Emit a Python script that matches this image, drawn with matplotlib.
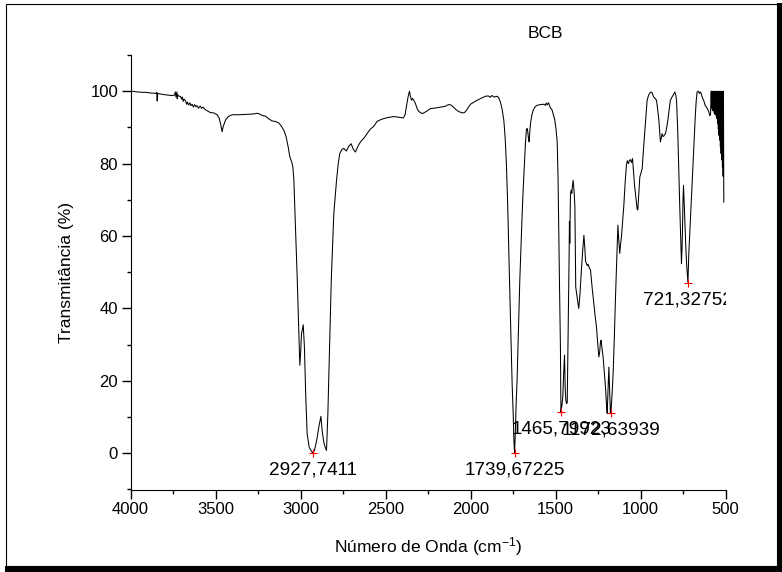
import matplotlib
matplotlib.use("Agg")
import matplotlib.pyplot as plt
from matplotlib.patches import Rectangle
from matplotlib.ticker import MultipleLocator
from matplotlib.transforms import offset_copy

plt.rcParams['font.family'] = ['Liberation Sans', 'DejaVu Sans']
plt.rcParams['mathtext.fontset'] = 'custom'
plt.rcParams['mathtext.rm'] = 'Liberation Sans'
plt.rcParams['mathtext.it'] = 'Liberation Sans:italic'

# FTIR spectrum (wavenumber in cm-1, transmittance in %)
wavenumber = [
    4000, 3990, 3960, 3930, 3912, 3880, 3850, 3846, 3843, 3840, 3810, 3790,
    3774, 3760, 3742, 3736, 3733, 3730, 3727, 3725, 3722, 3715, 3706, 3700,
    3695, 3690, 3685, 3676, 3670, 3665, 3658, 3650, 3645, 3637, 3630, 3622,
    3615, 3608, 3600, 3590, 3582, 3574, 3562, 3549, 3530, 3510, 3490, 3478,
    3468, 3461, 3455, 3441, 3425, 3402, 3360, 3324, 3280, 3255, 3245, 3225,
    3206, 3185, 3167, 3145, 3127, 3112, 3098, 3085, 3072, 3063, 3052, 3045,
    3039, 3029, 3019, 3010, 3004, 2999, 2994, 2984, 2977, 2969, 2961, 2949,
    2938, 2928, 2918, 2905, 2892, 2880, 2872, 2863, 2855, 2847, 2839, 2829,
    2819, 2804, 2788, 2778, 2769, 2755, 2745, 2730, 2716, 2702, 2690, 2677,
    2660, 2647, 2628, 2608, 2590, 2569, 2549, 2520, 2490, 2451, 2420, 2395,
    2385, 2377, 2367, 2359, 2353, 2347, 2341, 2335, 2324, 2314, 2304, 2284,
    2260, 2236, 2200, 2177, 2150, 2130, 2115, 2100, 2088, 2070, 2049, 2035,
    2020, 2000, 1980, 1961, 1940, 1912, 1895, 1885, 1875, 1860, 1843, 1834,
    1824, 1814, 1804, 1796, 1789, 1782, 1775, 1768, 1761, 1755, 1749, 1745,
    1741, 1736, 1732, 1726, 1718, 1710, 1703, 1696, 1690, 1683, 1677, 1671,
    1667, 1663, 1659, 1655, 1651, 1647, 1639, 1631, 1620, 1608, 1590, 1569,
    1560, 1555, 1549, 1542, 1539, 1532, 1520, 1510, 1504, 1497, 1490, 1485,
    1481, 1476, 1471, 1468, 1463, 1457, 1452, 1447, 1443, 1439, 1435, 1431,
    1427, 1424, 1420, 1418, 1416, 1412, 1408, 1404, 1400, 1396, 1390, 1386,
    1383, 1381, 1377, 1373, 1368, 1363, 1356, 1349, 1340, 1333, 1328, 1323,
    1318, 1313, 1308, 1301, 1294, 1285, 1275, 1267, 1259, 1252, 1245, 1240,
    1236, 1232, 1226, 1220, 1213, 1206, 1200, 1196, 1192, 1186, 1181, 1177,
    1173, 1167, 1161, 1154, 1147, 1140, 1133, 1128, 1122, 1118, 1112, 1105,
    1098, 1090, 1083, 1078, 1071, 1065, 1059, 1053, 1047, 1040, 1035, 1028,
    1020, 1016, 1010, 1004, 997, 990, 984, 977, 970, 961, 953, 945,
    938, 932, 926, 922, 914, 906, 899, 892, 887, 883, 878, 873,
    868, 863, 858, 853, 846, 839, 830, 824, 816, 808, 803, 798,
    793, 788, 784, 781, 777, 773, 769, 765, 762, 759, 756, 753,
    750, 747, 743, 739, 735, 732, 727, 721, 716, 711, 706, 701,
    696, 691, 686, 681, 677, 672, 667, 660, 654, 647, 640, 634,
    627, 620, 612, 605, 598, 592, 588,
]
transmittance = [
    100.0, 100.0, 99.8, 99.7, 99.7, 99.5, 99.4, 99.7, 97.3, 99.4, 99.1, 99.0,
    98.9, 98.8, 98.9, 99.8, 98.4, 99.1, 99.8, 97.9, 99.0, 98.6, 98.6, 97.8,
    98.4, 97.2, 97.8, 97.3, 96.4, 97.0, 96.2, 96.8, 96.0, 96.4, 95.6, 96.3,
    95.7, 96.0, 95.3, 95.9, 95.3, 95.6, 95.0, 94.6, 94.1, 94.0, 93.5, 92.5,
    90.5, 88.8, 90.2, 92.0, 93.0, 93.5, 93.5, 93.6, 93.7, 93.9, 93.8, 93.3,
    93.1, 92.3, 91.8, 91.6, 91.2, 90.3, 89.2, 87.5, 84.5, 81.9, 80.5, 79.1,
    75.4, 61.6, 47.8, 33.1, 24.3, 28.0, 33.0, 35.5, 29.4, 15.6, 5.4, 1.7,
    0.8, 0.1, 0.8, 3.5, 7.3, 10.2, 6.0, 3.0, 1.7, 0.8, 11.0, 29.4,
    47.8, 66.2, 75.4, 80.0, 82.8, 84.0, 84.2, 83.5, 84.8, 85.5, 84.0, 83.2,
    85.0, 86.0, 87.0, 88.3, 89.5, 90.3, 91.7, 92.3, 92.7, 93.0, 92.8, 92.6,
    93.5, 95.7, 98.5, 100.0, 98.5, 97.5, 98.0, 97.6, 96.6, 95.2, 94.4, 93.8,
    94.4, 95.2, 95.4, 95.6, 95.8, 96.3, 96.2, 95.6, 95.0, 94.4, 94.0, 94.1,
    95.0, 96.4, 97.0, 97.5, 98.0, 98.6, 98.7, 98.3, 98.8, 98.4, 98.6, 98.2,
    97.0, 95.0, 92.0, 87.0, 80.0, 70.0, 57.0, 43.0, 29.4, 19.0, 11.0, 4.0,
    0.1, 6.0, 13.0, 20.2, 34.0, 47.8, 57.0, 66.2, 73.0, 80.0, 85.5, 89.4,
    89.7, 88.8, 87.0, 86.0, 89.0, 91.1, 93.5, 94.8, 95.7, 96.1, 96.3, 96.4,
    96.1, 96.7, 96.2, 96.8, 96.6, 95.6, 94.8, 93.0, 92.0, 89.5, 86.0, 76.0,
    61.6, 45.0, 29.4, 11.4, 13.0, 15.6, 22.0, 27.1, 18.0, 14.6, 13.7, 14.0,
    28.0, 38.6, 54.3, 64.0, 58.0, 71.5, 72.7, 71.8, 74.0, 75.4, 72.0, 68.0,
    55.0, 45.9, 44.5, 43.2, 41.5, 40.0, 44.0, 49.6, 56.0, 60.2, 57.0, 53.0,
    52.4, 51.8, 52.2, 51.2, 50.6, 46.0, 41.4, 38.0, 34.9, 30.5, 26.6, 28.0,
    30.5, 31.2, 29.0, 26.6, 22.5, 18.3, 13.5, 11.0, 16.0, 23.8, 17.0, 11.1,
    12.0, 16.5, 22.0, 32.0, 43.2, 53.0, 63.0, 59.0, 55.2, 57.5, 59.8, 64.0,
    68.5, 75.0, 79.5, 80.8, 80.0, 80.9, 81.1, 80.3, 81.4, 77.0, 74.0, 71.0,
    67.5, 67.2, 72.0, 76.3, 77.5, 78.6, 83.0, 87.4, 92.0, 97.5, 98.8, 99.5,
    99.8, 99.6, 98.8, 98.4, 98.0, 97.5, 95.0, 92.0, 88.5, 86.0, 87.0, 88.3,
    87.5, 87.6, 88.0, 88.3, 90.0, 92.0, 95.5, 97.5, 98.3, 98.9, 99.3, 99.8,
    99.0, 97.5, 93.0, 89.2, 82.0, 75.4, 68.0, 61.6, 57.0, 52.4, 56.0, 61.6,
    70.0, 74.0, 69.0, 64.4, 59.0, 55.2, 51.0, 47.2, 55.0, 60.0, 64.4, 70.0,
    75.4, 80.0, 84.6, 89.5, 93.8, 97.5, 99.8, 100.0, 99.4, 99.8, 98.8, 98.0,
    97.3, 96.1, 95.6, 95.0, 94.3, 93.2, 93.6,
]

# noisy low-wavenumber end of the spectrum
noise_wn = [584, 582, 580, 578, 576, 574, 572, 570, 568, 566, 564, 562,
            560, 558, 556, 554, 552, 550, 548, 546, 544, 542, 540, 538,
            536, 534, 532, 530, 528, 526, 524, 522, 520, 518, 516, 514,
            512, 510]
noise_t = [100, 95.5, 99.6, 95.0, 100, 94.6, 99.4, 95.2, 100, 94.0, 99.8, 93.6,
           100, 93.8, 99.5, 93.0, 100, 92.4, 99.7, 91.0, 100, 89.5, 99.6, 87.8,
           100, 86.5, 99.8, 84.6, 100, 82.8, 99.4, 81.0, 100, 79.0, 99.7, 76.5,
           100, 69.4]

# picked peaks
peak_wn = [2927.7411, 1739.67225, 1465.79923, 1172.63939, 721.32752]
peak_t = [0.1, 0.1, 11.4, 11.1, 47.1]
peak_labels = ["2927,7411", "1739,67225", "1465,79923", "1172,63939", "721,32752"]

W, H = 782, 572
fig = plt.figure(figsize=(W / 100, H / 100), dpi=100)
ax = fig.add_axes([130.5 / W, 1 - 489.5 / H, 595 / W, 434.5 / H])

ax.plot(wavenumber + noise_wn, transmittance + noise_t, color='black', lw=0.75)
ax.plot(peak_wn, peak_t, '+', color='red', ms=6, mew=0.8)

# peak labels sit just under the markers, clipped by the axes like the original
below = offset_copy(ax.transData, fig=fig, x=0, y=-17, units='dots')
for x, y, s in zip(peak_wn, peak_t, peak_labels):
    ax.text(x, y, s, transform=below, ha='center', va='center',
            fontsize=13.6, clip_on=True)

ax.set_xlim(4000, 500)
ax.set_ylim(-10, 110)
ax.xaxis.set_major_locator(MultipleLocator(500))
ax.xaxis.set_minor_locator(MultipleLocator(250))
ax.yaxis.set_major_locator(MultipleLocator(20))
ax.yaxis.set_minor_locator(MultipleLocator(10))
ax.tick_params(which='both', direction='out', labelsize=12, width=1)
ax.tick_params(which='major', length=6.5, pad=2.5)
ax.tick_params(which='minor', length=3)
for side in ('top', 'right'):
    ax.spines[side].set_visible(False)

ax.set_xlabel('Número de Onda (cm$^{-1}$)', fontsize=12.5, labelpad=13)
ax.set_ylabel('Transmitância (%)', fontsize=12.5, labelpad=12)
fig.text(545 / W, 1 - 34 / H, 'BCB', ha='center', va='center', fontsize=12.5)

# page frame with shadow on right and bottom
fig.add_artist(Rectangle((5.5 / W, 1 - 566 / H), 771.5 / W, 562.5 / H,
                         transform=fig.transFigure, fill=False,
                         edgecolor='black', lw=0.8))
fig.add_artist(Rectangle((777 / W, 0), 5 / W, 1 - 3 / H,
                         transform=fig.transFigure, color='black', lw=0))
fig.add_artist(Rectangle((5 / W, 0), 777 / W, 6 / H,
                         transform=fig.transFigure, color='black', lw=0))

fig.savefig('out.png', dpi=100)
